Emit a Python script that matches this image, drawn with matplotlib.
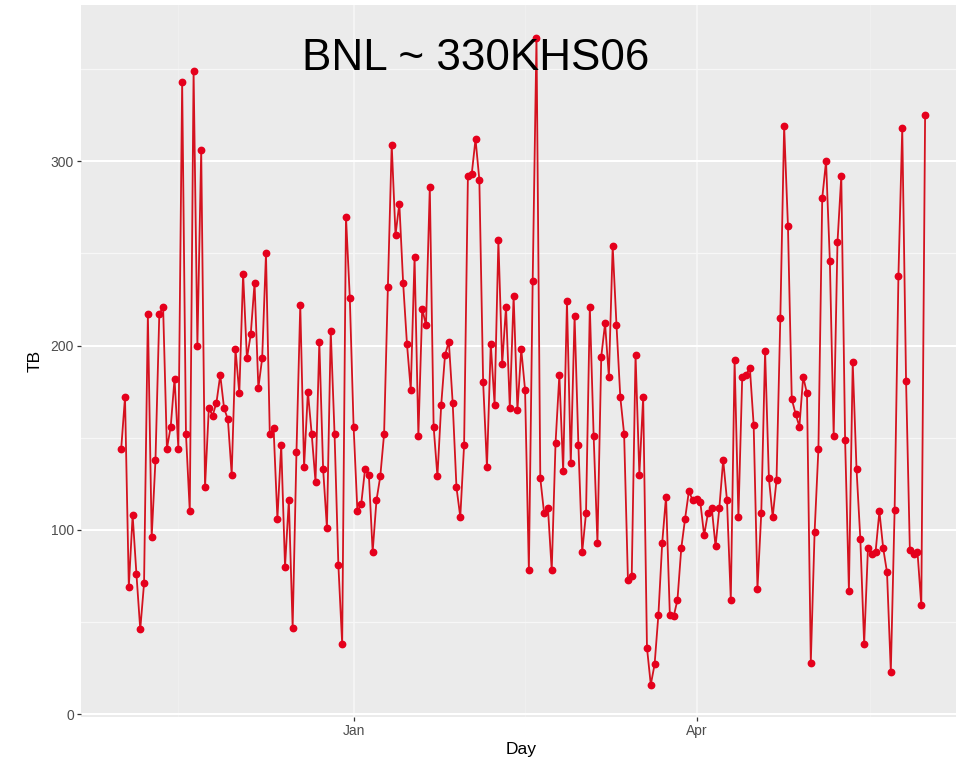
import matplotlib
matplotlib.use("Agg")
import matplotlib.pyplot as plt
import matplotlib.dates as mdates
import numpy as np
import pandas as pd

plt.rcParams['font.family'] = ['Liberation Sans', 'DejaVu Sans']

title = "BNL ~ 330KHS06"
x_label = "Day"
y_label = "TB"
start_date = "2005-11-01"
end_date = "2006-05-31"

tb = [
    144, 172, 69, 108, 76, 46, 71, 217, 96, 138,
    217, 221, 144, 156, 182, 144, 343, 152, 110, 349,
    200, 306, 123, 166, 162, 169, 184, 166, 160, 130,
    198, 174, 239, 193, 206, 234, 177, 193, 250, 152,
    155, 106, 146, 80, 116, 47, 142, 222, 134, 175,
    152, 126, 202, 133, 101, 208, 152, 81, 38, 270,
    226, 156, 110, 114, 133, 130, 88, 116, 129, 152,
    232, 309, 260, 277, 234, 201, 176, 248, 151, 220,
    211, 286, 156, 129, 168, 195, 202, 169, 123, 107,
    146, 292, 293, 312, 290, 180, 134, 201, 168, 257,
    190, 221, 166, 227, 165, 198, 176, 78, 235, 367,
    128, 109, 112, 78, 147, 184, 132, 224, 136, 216,
    146, 88, 109, 221, 151, 93, 194, 212, 183, 254,
    211, 172, 152, 73, 75, 195, 130, 172, 36, 16,
    27, 54, 93, 118, 54, 53, 62, 90, 106, 121,
    116, 117, 115, 97, 109, 112, 91, 112, 138, 116,
    62, 192, 107, 183, 184, 188, 157, 68, 109, 197,
    128, 107, 127, 215, 319, 265, 171, 163, 156, 183,
    174, 28, 99, 144, 280, 300, 246, 151, 256, 292,
    149, 67, 191, 133, 95, 38, 90, 87, 88, 110,
    90, 77, 23, 111, 238, 318, 181, 89, 87, 88,
    59, 325,
]

days = pd.date_range(start_date, end_date, freq="D")
values = np.array(tb, dtype=float)

W, H = 956, 758
fig = plt.figure(figsize=(W / 100, H / 100), dpi=100)

# axes placement (pixels) - panel extends slightly beyond right edge (cropped like reference)
left_px = 81
bottom_px = 717
px_per_day = 3.81
px_per_unit = 1.843

span = (days[-1] - days[0]).days
xpad = 0.05 * span
ymin, ymax = values.min(), values.max()
ypad = 0.05 * (ymax - ymin)
ylo, yhi = ymin - ypad, ymax + ypad

w_px = (span + 2 * xpad) * px_per_day
h_px = (yhi - ylo) * px_per_unit
ax = fig.add_axes([left_px / W, (H - bottom_px) / H, w_px / W, h_px / H])

ax.set_facecolor("#EBEBEB")
for s in ax.spines.values():
    s.set_visible(False)

ax.plot(days, values, color="#D4121F", linewidth=1.3, zorder=3)
ax.plot(days, values, linestyle="none", marker="o", markersize=4.6,
        markerfacecolor="#E5001C", markeredgecolor="#E5001C", zorder=4)

# y axis
ax.set_yticks([0, 100, 200, 300])
ax.set_yticks([50, 150, 250, 350], minor=True)
# x axis: quarterly major breaks, minor breaks at midpoints
majors = pd.to_datetime(["2005-10-01", "2006-01-01", "2006-04-01", "2006-07-01"])
minors = [majors[i] + (majors[i + 1] - majors[i]) / 2 for i in range(len(majors) - 1)]
ax.set_xticks(majors)
ax.set_xticks(minors, minor=True)
ax.xaxis.set_major_formatter(mdates.DateFormatter("%b"))

ax.set_xlim(days[0] - pd.Timedelta(days=xpad), days[-1] + pd.Timedelta(days=xpad))
ax.set_ylim(ylo, yhi)

ax.yaxis.grid(True, which="major", color="white", linewidth=1.5, zorder=0)
ax.yaxis.grid(True, which="minor", color="#F7F7F7", linewidth=0.9, zorder=0)
ax.xaxis.grid(True, which="major", color="#F6F6F6", linewidth=1.2, zorder=0)
ax.xaxis.grid(True, which="minor", color="#F0F0F0", linewidth=0.7, zorder=0)
ax.set_axisbelow(True)

ax.tick_params(axis="both", which="major", length=3, width=0.9, color="#333333",
               labelcolor="#4D4D4D", labelsize=10, pad=2)
ax.tick_params(axis="both", which="minor", length=0)

ax.set_xlabel(x_label, fontsize=12.5, color="black", labelpad=1)
ax.set_ylabel(y_label, fontsize=12.5, color="black", labelpad=6)
ax.xaxis.set_label_coords(((956 + left_px) / 2 - left_px + 3) / w_px, -0.035)

fig.text(475.5 / W, 1 - 70 / H, title, ha="center", va="baseline",
         fontsize=31.7, color="black")

fig.savefig("out.png", dpi=100, facecolor="white")
